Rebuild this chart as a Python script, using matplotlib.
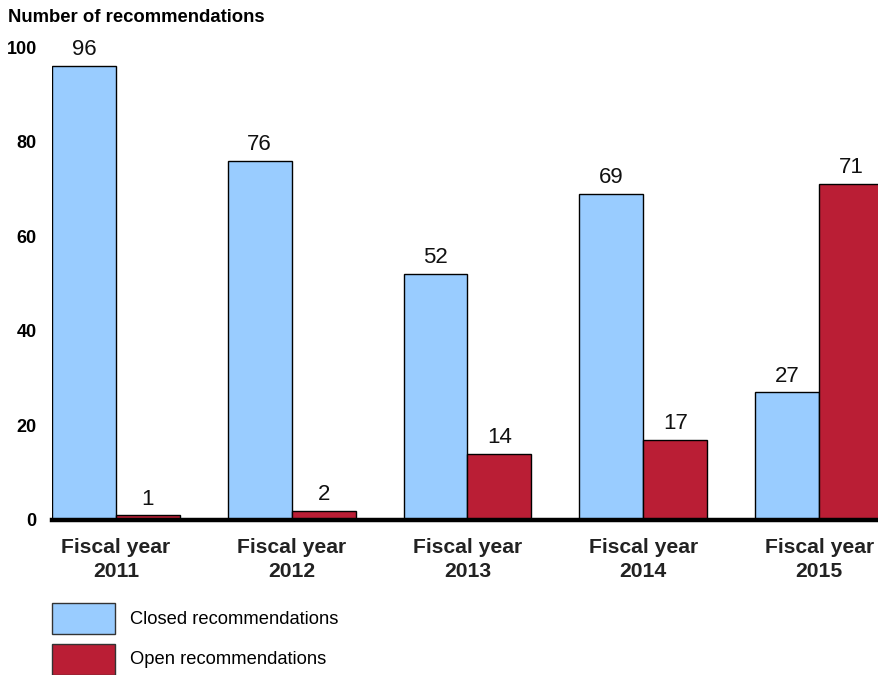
import numpy as np
import matplotlib.pyplot as plt
from matplotlib.patches import Rectangle

years = ['Fiscal year\n2011', 'Fiscal year\n2012', 'Fiscal year\n2013', 'Fiscal year\n2014', 'Fiscal year\n2015']
closed = [96, 76, 52, 69, 27]
open_recs = [1, 2, 14, 17, 71]
yticks = [0, 20, 40, 60, 80, 100]

BLUE = '#99CCFF'
RED = '#BA1E35'

plt.rcParams['font.family'] = ['Liberation Sans', 'DejaVu Sans']

fig = plt.figure(figsize=(8.79, 6.75), dpi=100)
W, H = 879, 675
ax = fig.add_axes([52 / W, 1 - 520 / H, 1 - 52 / W, (520 - 47) / H])

x = np.arange(len(years))
w = 64 / 176
b1 = ax.bar(x - w / 2, closed, w, color=BLUE, edgecolor='black', linewidth=1, zorder=2)
b2 = ax.bar(x + w / 2, open_recs, w, color=RED, edgecolor='black', linewidth=1, zorder=2)

for bars, vals in [(b1, closed), (b2, open_recs)]:
    for r, v in zip(bars, vals):
        ax.text(r.get_x() + r.get_width() / 2, v + 1.2, str(v),
                ha='center', va='bottom', fontsize=16, color='#111111', clip_on=False)

ax.set_xlim(-w, 4 + 60 / 176)
ax.set_ylim(0, 100)
ax.set_yticks(yticks)
ax.set_yticklabels([str(t) for t in yticks], fontsize=13, fontweight='bold')
ax.set_xticks(x)
ax.set_xticklabels(years, fontsize=15.2, fontweight='bold', color='#222222', linespacing=1.3)
ax.tick_params(axis='y', length=0, pad=11)
ax.tick_params(axis='x', length=0, pad=13)
for s in ['top', 'right', 'left']:
    ax.spines[s].set_visible(False)
ax.spines['bottom'].set_linewidth(3.2)
ax.spines['bottom'].set_zorder(3)

fig.text(8 / W, 1 - 17 / H, 'Number of recommendations', fontsize=13.3, fontweight='bold',
         ha='left', va='center')

# legend drawn as boxes in figure pixels
legend_items = [('Closed recommendations', BLUE), ('Open recommendations', RED)]
for i, (label, col) in enumerate(legend_items):
    top = 603 + i * 41
    fig.patches.append(Rectangle((52 / W, 1 - (top + 31) / H), 63 / W, 31 / H,
                                 transform=fig.transFigure, facecolor=col,
                                 edgecolor='#333333', linewidth=1))
    fig.text(130 / W, 1 - (top + 16) / H, label, fontsize=13.2, ha='left', va='center')

fig.savefig('out.png', dpi=100)
